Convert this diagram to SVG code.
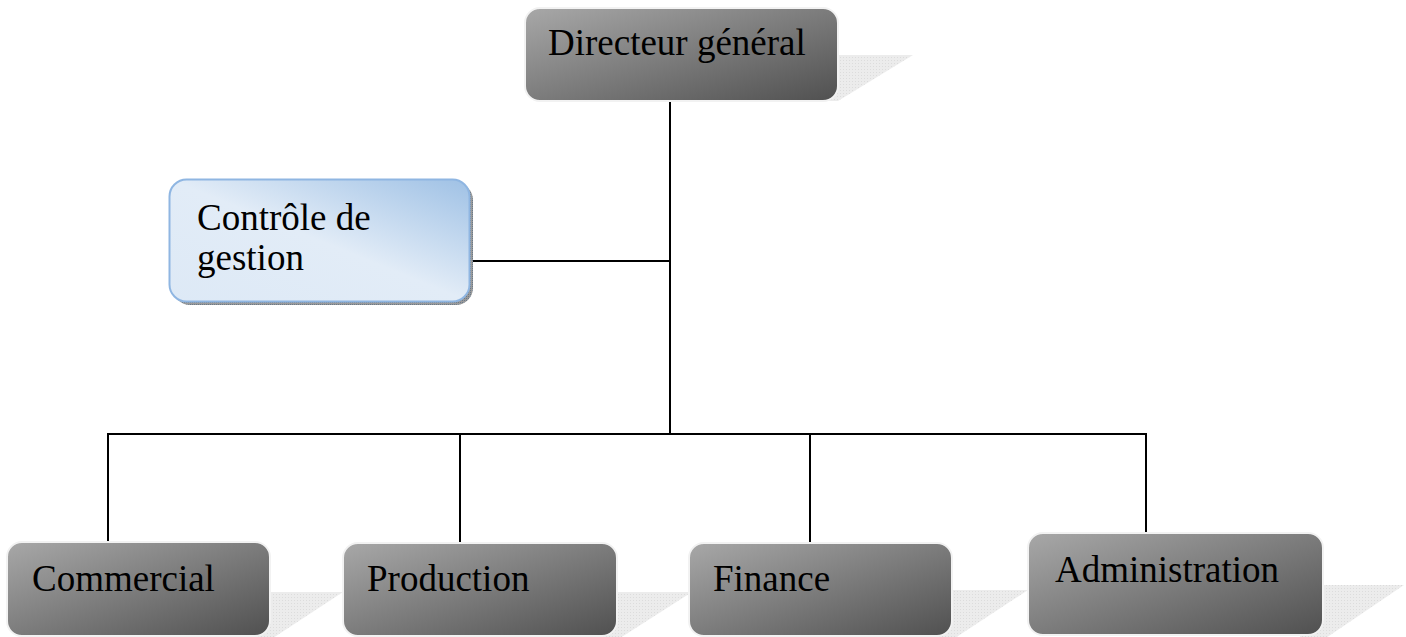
<svg xmlns="http://www.w3.org/2000/svg" width="1406" height="637" viewBox="0 0 1406 637">
<defs>
<linearGradient id="gray" x1="0" y1="0" x2="1" y2="1">
<stop offset="0" stop-color="#a8a8a8"/>
<stop offset="1" stop-color="#505050"/>
</linearGradient>
<linearGradient id="blue" x1="0" y1="1" x2="1" y2="0">
<stop offset="0" stop-color="#dde9f6"/>
<stop offset="0.5" stop-color="#e2ecf7"/>
<stop offset="1" stop-color="#9fc1e5"/>
</linearGradient>
<pattern id="hatch" width="3" height="3" patternUnits="userSpaceOnUse">
<rect width="3" height="3" fill="#ececec"/>
<rect width="1" height="1" fill="#dcdcdc"/>
</pattern>
<pattern id="dots" width="2" height="2" patternUnits="userSpaceOnUse">
<rect width="2" height="2" fill="#9a9a9a"/>
<rect width="1" height="1" fill="#6a7a8a"/>
</pattern>
</defs>
<style>
.box{fill:url(#gray);stroke:#f2f2f2;stroke-width:2}
.shadow{fill:url(#hatch)}
.t{font-size:37px;fill:#000}
.c{stroke:#000;stroke-width:2;fill:none}
</style>
<g id="connectors">
<line class="c" x1="670" y1="101" x2="670" y2="434"/>
<line class="c" x1="470" y1="261" x2="670" y2="261"/>
<line class="c" x1="107" y1="434" x2="1147" y2="434"/>
<line class="c" x1="108" y1="434" x2="108" y2="542"/>
<line class="c" x1="460" y1="434" x2="460" y2="543"/>
<line class="c" x1="810" y1="434" x2="810" y2="543"/>
<line class="c" x1="1146" y1="434" x2="1146" y2="533"/>
</g>
<g id="node-directeur">
<polygon class="shadow" points="820,55 913,55 838,101 820,101"/>
<rect class="box" x="525" y="8" width="313" height="93" rx="15"/>
<text class="t" font-family="Liberation Serif, DejaVu Serif, serif" x="548" y="55">Directeur général</text>
</g>
<g id="node-controle">
<rect x="173" y="183" width="300" height="122" rx="17" fill="url(#dots)"/>
<rect x="169.5" y="179.5" width="300" height="122" rx="17" fill="url(#blue)" stroke="#8fb6e2" stroke-width="2"/>
<text class="t" font-family="Liberation Serif, DejaVu Serif, serif" x="197" y="230">Contrôle de</text>
<text class="t" font-family="Liberation Serif, DejaVu Serif, serif" x="197" y="270">gestion</text>
</g>
<g id="node-commercial">
<polygon class="shadow" points="250,592 343,592 270,640 250,640"/>
<rect class="box" x="7" y="542" width="263" height="94" rx="15"/>
<text class="t" font-family="Liberation Serif, DejaVu Serif, serif" x="32" y="591">Commercial</text>
</g>
<g id="node-production">
<polygon class="shadow" points="600,592 692,592 617,640 600,640"/>
<rect class="box" x="343" y="543" width="274" height="93" rx="15"/>
<text class="t" font-family="Liberation Serif, DejaVu Serif, serif" x="367" y="591">Production</text>
</g>
<g id="node-finance">
<polygon class="shadow" points="930,590 1028,590 952,640 930,640"/>
<rect class="box" x="689" y="543" width="263" height="93" rx="15"/>
<text class="t" font-family="Liberation Serif, DejaVu Serif, serif" x="713" y="591">Finance</text>
</g>
<g id="node-administration">
<polygon class="shadow" points="1300,585 1404,585 1323,640 1300,640"/>
<rect class="box" x="1028" y="533" width="295" height="102" rx="15"/>
<text class="t" font-family="Liberation Serif, DejaVu Serif, serif" x="1055" y="582">Administration</text>
</g>
</svg>
